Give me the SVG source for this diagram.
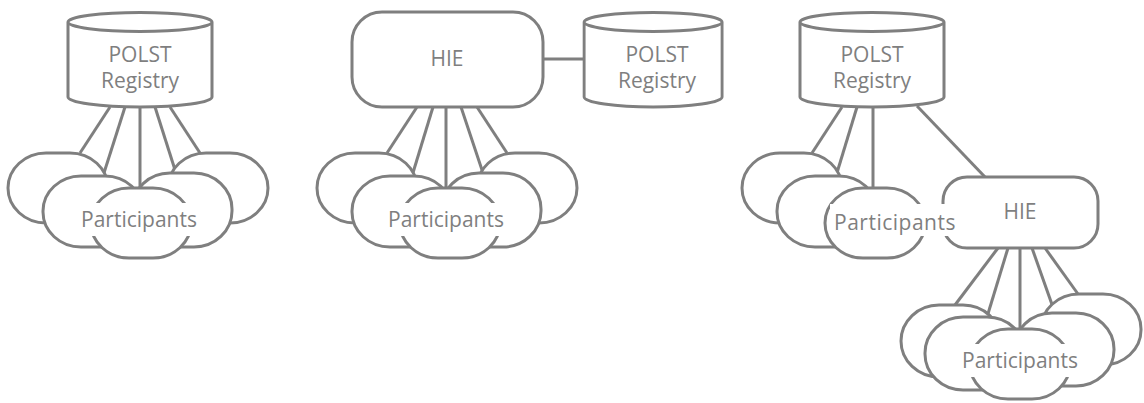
<svg xmlns="http://www.w3.org/2000/svg" width="1144" height="403" viewBox="0 0 1144 403">
<style>
.s{fill:#fff;stroke:#7f7f7f;stroke-width:3;stroke-linejoin:round}
.c{stroke:#7f7f7f;stroke-width:3;fill:none}
.t{font-family:"Open Sans","Liberation Sans",sans-serif;font-size:21px;font-weight:400;fill:#7f7f7f;text-anchor:middle}
.bg{fill:#fff;stroke:none}
</style>
<defs>
<path id="cyl" d="M0,22 A72,9.5 0 0 1 144,22 L144,97 A72,10 0 0 1 0,97 Z M0,22 A72,9.5 0 0 0 144,22"/>
</defs>
<rect width="1144" height="403" fill="#fff"/>
<g id="connectors">
<line class="c" x1="110" y1="107" x2="80" y2="153"/>
<line class="c" x1="125" y1="107" x2="103" y2="176"/>
<line class="c" x1="140" y1="107" x2="140" y2="188"/>
<line class="c" x1="155" y1="107" x2="176" y2="173"/>
<line class="c" x1="170" y1="107" x2="200" y2="153"/>
<line class="c" x1="417" y1="107" x2="387" y2="153"/>
<line class="c" x1="433" y1="107" x2="412" y2="176"/>
<line class="c" x1="446" y1="107" x2="446" y2="188"/>
<line class="c" x1="461" y1="107" x2="483" y2="173"/>
<line class="c" x1="477" y1="107" x2="507" y2="153"/>
<line class="c" x1="543" y1="59" x2="587" y2="59"/>
<line class="c" x1="842" y1="107" x2="812" y2="153"/>
<line class="c" x1="857" y1="107" x2="836" y2="176"/>
<line class="c" x1="873" y1="107" x2="873" y2="188"/>
<line class="c" x1="917" y1="106" x2="985" y2="177"/>
<line class="c" x1="998" y1="248" x2="955" y2="305"/>
<line class="c" x1="1008" y1="248" x2="987" y2="317"/>
<line class="c" x1="1020" y1="248" x2="1020" y2="329"/>
<line class="c" x1="1032" y1="248" x2="1055" y2="313"/>
<line class="c" x1="1045" y1="248" x2="1078" y2="294"/>
</g>
<g id="registry1">
<use href="#cyl" class="s" x="68"/>
<text class="t" x="140" y="62">POLST</text>
<text class="t" x="140" y="88">Registry</text>
</g>
<g id="participants1">
<rect class="s" x="8" y="153" width="100" height="70" rx="38" ry="35"/>
<rect class="s" x="168" y="153" width="100" height="70" rx="38" ry="35"/>
<rect class="s" x="43" y="176" width="100" height="71" rx="38" ry="35"/>
<rect class="s" x="132" y="173" width="100" height="74" rx="38" ry="36"/>
<rect class="s" x="91" y="188" width="100" height="70" rx="38" ry="35"/>
<rect class="bg" x="75" y="203" width="130" height="33"/>
<text class="t" x="139" y="227">Participants</text>
</g>
<g id="hie1">
<rect class="s" x="352" y="12" width="191" height="95" rx="30" ry="30"/>
<text class="t" x="447" y="66">HIE</text>
</g>
<g id="registry2">
<use href="#cyl" class="s" x="584" transform="translate(587 0) scale(0.958 1) translate(-587 0)"/>
<text class="t" x="657" y="62">POLST</text>
<text class="t" x="657" y="88">Registry</text>
</g>
<g id="participants2">
<rect class="s" x="317" y="153" width="100" height="70" rx="38" ry="35"/>
<rect class="s" x="477" y="153" width="100" height="70" rx="38" ry="35"/>
<rect class="s" x="352" y="176" width="100" height="71" rx="38" ry="35"/>
<rect class="s" x="441" y="173" width="100" height="74" rx="38" ry="36"/>
<rect class="s" x="400" y="188" width="100" height="70" rx="38" ry="35"/>
<rect class="bg" x="381" y="203" width="130" height="33"/>
<text class="t" x="446" y="227">Participants</text>
</g>
<g id="registry3">
<use href="#cyl" class="s" x="800"/>
<text class="t" x="872" y="62">POLST</text>
<text class="t" x="872" y="88">Registry</text>
</g>
<g id="participants3-back">
<rect class="s" x="742" y="153" width="100" height="70" rx="38" ry="35"/>
<rect class="s" x="777" y="176" width="100" height="71" rx="38" ry="35"/>
</g>
<g id="hie2">
<rect class="s" x="943" y="177" width="155" height="71" rx="24" ry="24"/>
<text class="t" x="1020" y="219">HIE</text>
</g>
<g id="participants3">
<rect class="s" x="825" y="188" width="100" height="70" rx="38" ry="35"/>
<rect class="bg" x="830" y="204" width="132" height="32"/>
<text class="t" x="895" y="230" letter-spacing="0.5">Participants</text>
</g>
<g id="participants4">
<rect class="s" x="901" y="305" width="100" height="72" rx="38" ry="36"/>
<rect class="s" x="1041" y="294" width="100" height="71" rx="38" ry="35"/>
<rect class="s" x="925" y="317" width="100" height="73" rx="38" ry="36"/>
<rect class="s" x="1014" y="313" width="100" height="73" rx="38" ry="36"/>
<rect class="s" x="970" y="329" width="100" height="70" rx="38" ry="35"/>
<rect class="bg" x="955" y="344" width="130" height="33"/>
<text class="t" x="1020" y="368">Participants</text>
</g>
</svg>
